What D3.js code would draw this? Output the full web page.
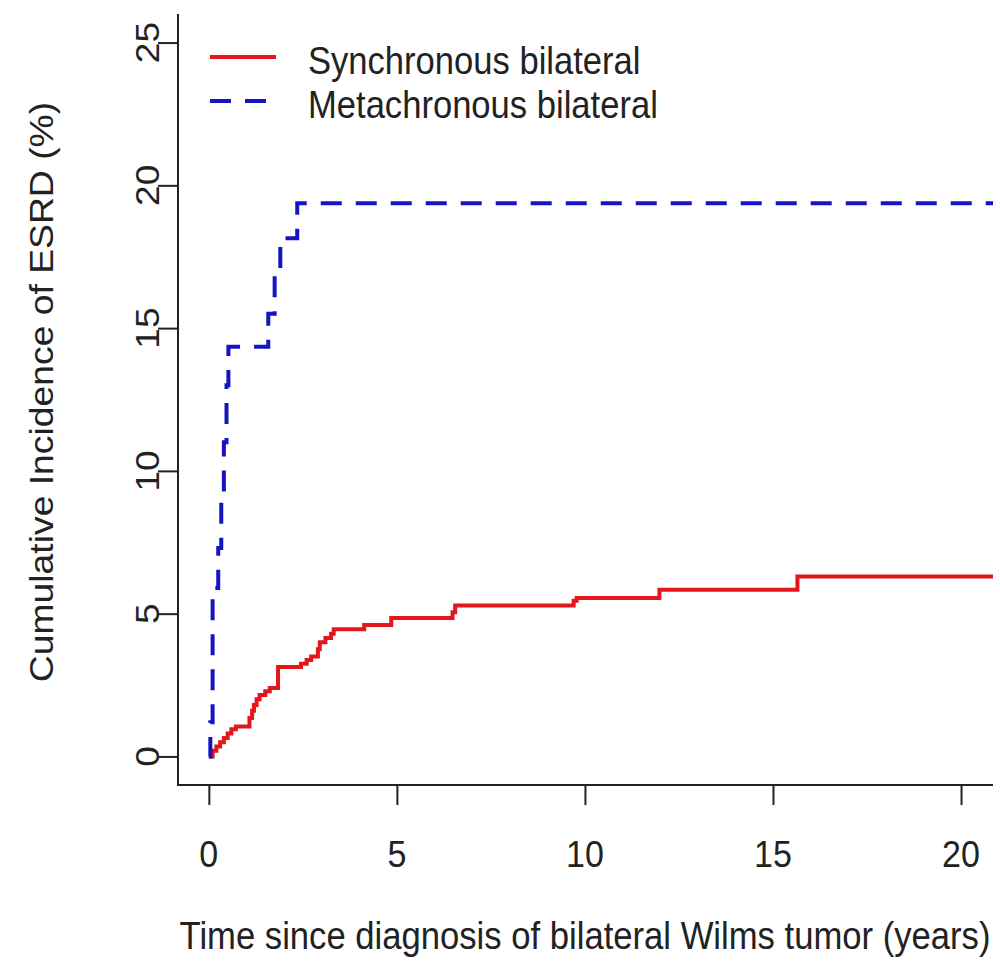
<!DOCTYPE html>
<html>
<head>
<meta charset="utf-8">
<script src="https://cdn.jsdelivr.net/npm/d3@7"></script>
<style>
  body { margin: 0; background: #fff; }
  text { font-family: "Liberation Sans", Arial, sans-serif; fill: #222; }
</style>
</head>
<body>
<div id="chart"></div>
<script>
// tick values
const xTicks = [0, 5, 10, 15, 20];
const yTicks = [0, 5, 10, 15, 20, 25];

// synchronous bilateral: step times (years) and cumulative incidence (%)
const syncTime = [0, 0.1, 0.2, 0.3, 0.4, 0.5, 0.6, 0.72, 1.08, 1.15, 1.2, 1.27, 1.35, 1.5, 1.62, 1.84, 2.45, 2.6, 2.72, 2.9, 2.95, 3.1, 3.25, 3.32, 4.13, 4.85, 6.48, 6.55, 9.7, 9.78, 11.98, 15.65, 20.85];
const syncCI   = [0, 0.2, 0.35, 0.5, 0.65, 0.8, 0.95, 1.05, 1.35, 1.6, 1.8, 2.0, 2.15, 2.28, 2.4, 3.13, 3.25, 3.38, 3.5, 3.75, 4.0, 4.15, 4.3, 4.45, 4.6, 4.85, 5.05, 5.29, 5.45, 5.55, 5.84, 6.3, 6.3];

// metachronous bilateral
const metaTime = [0, 0.04, 0.1, 0.25, 0.33, 0.4, 0.47, 0.52, 1.58, 1.75, 1.9, 2.35, 20.85];
const metaCI   = [0, 1.2, 5.9, 7.3, 9.0, 11.0, 13.0, 14.35, 15.5, 16.9, 18.15, 19.37, 19.37];

const seriesNames = ["Synchronous bilateral", "Metachronous bilateral"];
const xTitle = "Time since diagnosis of bilateral Wilms tumor (years)";
const yTitle = "Cumulative Incidence of ESRD (%)";

const width = 1000, height = 961;
const red = "#e3161b", blue = "#1414c4", ink = "#222";

const svg = d3.select("#chart")
    .append("svg")
    .attr("width", width)
    .attr("height", height);

const x = d3.scaleLinear().domain([-0.82, 20.85]).range([178, 993]);
const y = d3.scaleLinear().domain([-1, 26]).range([785, 14]);

// L-shaped box
svg.append("path")
    .attr("d", `M${x.range()[0]},${y.range()[1]}V${y.range()[0]}H${x.range()[1]}`)
    .attr("fill", "none")
    .attr("stroke", ink)
    .attr("stroke-width", 2);

// axes (tick marks only, labels drawn below)
const xAxis = svg.append("g")
    .attr("transform", `translate(0,${y.range()[0]})`)
    .call(d3.axisBottom(x).tickValues(xTicks).tickSize(20).tickFormat(""));
const yAxis = svg.append("g")
    .attr("transform", `translate(${x.range()[0]},0)`)
    .call(d3.axisLeft(y).tickValues(yTicks).tickSize(20).tickFormat(""));
[xAxis, yAxis].forEach(g => {
    g.select(".domain").remove();
    g.selectAll(".tick line").attr("stroke", ink).attr("stroke-width", 2);
});

// x tick labels
xTicks.forEach(t => {
    svg.append("g")
        .attr("transform", `translate(${x(t)},867) scale(0.92,1)`)
        .append("text")
        .attr("text-anchor", "middle")
        .style("font-size", "37px")
        .text(t);
});

// y tick labels, rotated like R's default
yTicks.forEach(t => {
    svg.append("g")
        .attr("transform", `translate(159,${y(t)}) scale(0.92,1) rotate(-90)`)
        .append("text")
        .attr("text-anchor", "middle")
        .style("font-size", "37px")
        .text(t);
});

// axis titles (glyphs narrowed to match the stretched original)
svg.append("g")
    .attr("transform", `translate(585,949) scale(0.9,1)`)
    .append("text")
    .attr("text-anchor", "middle")
    .style("font-size", "38.5px")
    .text(xTitle);

svg.append("g")
    .attr("transform", `translate(53,392) scale(0.88,1) rotate(-90)`)
    .append("text")
    .attr("text-anchor", "middle")
    .style("font-size", "37.3px")
    .text(yTitle);

// step curves
const step = d3.line()
    .x(d => x(d[0]))
    .y(d => y(d[1]))
    .curve(d3.curveStepAfter);

svg.append("path")
    .datum(syncTime.map((t, i) => [t, syncCI[i]]))
    .attr("d", step)
    .attr("fill", "none")
    .attr("stroke", red)
    .attr("stroke-width", 4);

svg.append("path")
    .datum(metaTime.map((t, i) => [t, metaCI[i]]))
    .attr("d", step)
    .attr("fill", "none")
    .attr("stroke", blue)
    .attr("stroke-width", 4)
    .attr("stroke-dasharray", "21,14");

// legend
const legend = [
    {name: seriesNames[0], color: red, dash: null, ly: 57, ty: 74},
    {name: seriesNames[1], color: blue, dash: "21,14", ly: 101, ty: 118}
];
legend.forEach(d => {
    svg.append("line")
        .attr("x1", 210).attr("x2", 276)
        .attr("y1", d.ly).attr("y2", d.ly)
        .attr("stroke", d.color)
        .attr("stroke-width", 4)
        .attr("stroke-dasharray", d.dash);
    svg.append("g")
        .attr("transform", `translate(308,${d.ty}) scale(0.91,1)`)
        .append("text")
        .style("font-size", "38px")
        .text(d.name);
});
</script>
</body>
</html>
